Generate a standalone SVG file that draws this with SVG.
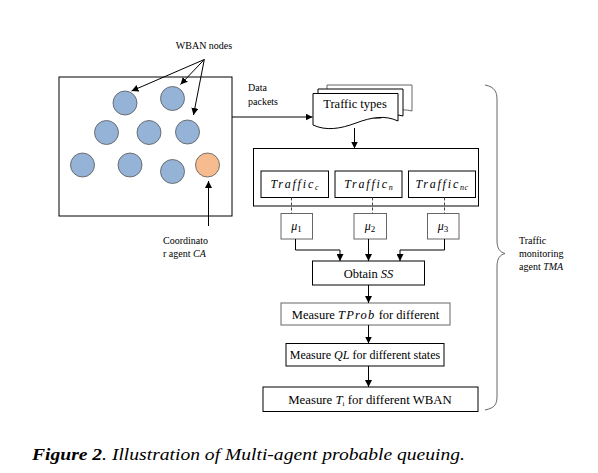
<svg xmlns="http://www.w3.org/2000/svg" width="598" height="473" viewBox="0 0 598 473">
<style>
text{fill:#000;font-family:"Times New Roman",Times,Tinos,"Liberation Serif","Noto Serif","DejaVu Serif",serif}
.s10{font-size:10px}
.s12{font-size:12px}
.m{font-style:italic}
.box{fill:#fff;stroke:#000;stroke-width:1}
.gbox{fill:#fff;stroke:#666;stroke-width:1}
.ln{fill:none;stroke:#000;stroke-width:1}
.dash{fill:none;stroke:#444;stroke-width:1;stroke-dasharray:3,2}
.blue{fill:#95b3d7;stroke:#555;stroke-width:0.8}
.orange{fill:#f6bc8f;stroke:#555;stroke-width:0.8}
</style>
<defs>
<marker id="ah" viewBox="0 0 10 10" refX="10" refY="5" markerWidth="7" markerHeight="7" orient="auto" markerUnits="userSpaceOnUse">
<path d="M0,0 L10,5 L0,10 z" fill="#000"/>
</marker>
</defs>
<rect width="598" height="473" fill="#fff"/>

<g id="wban-area">
<rect x="59" y="77" width="173" height="139" class="box"/>
<circle cx="125" cy="103" r="12" class="blue"/>
<circle cx="172.5" cy="98.5" r="12" class="blue"/>
<circle cx="106.5" cy="132.5" r="12" class="blue"/>
<circle cx="149" cy="132.5" r="12" class="blue"/>
<circle cx="187.5" cy="132" r="12" class="blue"/>
<circle cx="82.5" cy="165" r="12" class="blue"/>
<circle cx="130" cy="165" r="12" class="blue"/>
<circle cx="172.5" cy="171.5" r="12" class="blue"/>
<circle cx="207.5" cy="165" r="12" class="orange"/>
</g>

<g id="wban-label">
<text x="204" y="49" class="s10" text-anchor="middle">WBAN  nodes</text>
</g>

<g id="coord-label">
<text x="163" y="244" class="s10">Coordinato</text>
<text x="163" y="257" class="s10">r agent <tspan class="m">CA</tspan></text>
</g>

<g id="data-label">
<text x="248" y="91" class="s10">Data</text>
<text x="248" y="105" class="s10">packets</text>
</g>

<g id="traffic-types">
<path d="M327,85 H412 V111 C400,108 395,112 390,113 L327,113 Z" class="gbox"/>
<path d="M318,89 H403 V116 C392,113 385,117 380,118 L318,118 Z" class="box"/>
<path d="M313,93.5 H398 V121 C385,115 372,117 356,123 C340,129 326,131 313,125 Z" class="box"/>
<text x="355" y="108" font-size="12.5" text-anchor="middle">Traffic types</text>
</g>

<g id="traffic-group">
<rect x="253.5" y="148.5" width="225" height="57.5" class="box"/>
</g>
<g id="traffic-c">
<rect x="261" y="171" width="67.5" height="26.5" class="box"/>
<text x="294.5" y="188" class="s12 m" text-anchor="middle" letter-spacing="1.8">Traffic<tspan font-size="8" dy="2" letter-spacing="0">c</tspan></text>
</g>
<g id="traffic-n">
<rect x="335" y="171" width="67" height="26.5" class="box"/>
<text x="368.5" y="188" class="s12 m" text-anchor="middle" letter-spacing="1.8">Traffic<tspan font-size="8" dy="2" letter-spacing="0">n</tspan></text>
</g>
<g id="traffic-nc">
<rect x="408.5" y="171" width="67" height="26.5" class="box"/>
<text x="442" y="188" class="s12 m" text-anchor="middle" letter-spacing="1.8">Traffic<tspan font-size="8" dy="2" letter-spacing="0.5">nc</tspan></text>
</g>

<g id="mu1">
<rect x="281" y="213.5" width="31.5" height="25.5" class="gbox"/>
<text x="296.5" y="230" class="s12 m" text-anchor="middle">μ<tspan font-size="9" font-style="normal" dy="2">1</tspan></text>
</g>
<g id="mu2">
<rect x="354" y="213.5" width="32.5" height="25.5" class="gbox"/>
<text x="370" y="230" class="s12 m" text-anchor="middle">μ<tspan font-size="9" font-style="normal" dy="2">2</tspan></text>
</g>
<g id="mu3">
<rect x="427.5" y="213.5" width="31.5" height="25.5" class="gbox"/>
<text x="443" y="230" class="s12 m" text-anchor="middle">μ<tspan font-size="9" font-style="normal" dy="2">3</tspan></text>
</g>

<g id="obtain">
<rect x="312.5" y="261" width="112" height="24" class="box"/>
<text x="368.5" y="277.5" font-size="12.5" text-anchor="middle">Obtain <tspan class="m">SS</tspan></text>
</g>
<g id="tprob">
<rect x="281" y="303" width="169" height="22" class="gbox"/>
<text x="365.5" y="318.5" font-size="12.5" text-anchor="middle">Measure <tspan class="m" letter-spacing="1.2">TProb</tspan> for different</text>
</g>
<g id="ql">
<rect x="286" y="343.5" width="158" height="22.5" class="box"/>
<text x="365" y="359" class="s12" text-anchor="middle">Measure <tspan class="m">QL</tspan> for different states</text>
</g>
<g id="ti">
<rect x="263" y="387" width="215" height="24.5" class="box"/>
<text x="370" y="403.5" font-size="12.8" text-anchor="middle">Measure <tspan class="m">T</tspan><tspan font-size="7" dy="2">i</tspan><tspan dy="-2"> for different WBAN</tspan></text>
</g>

<g id="tma-label">
<path d="M485,85 C495,87 497,92 497,100 L497,240 C497,249 500,252 505,253.5 C500,255 497,258 497,267 L497,396 C497,404 495,408 485,410" fill="none" stroke="#666" stroke-width="1"/>
<text x="519" y="244" class="s10">Traffic</text>
<text x="519" y="257" class="s10">monitoring</text>
<text x="519" y="270" class="s10">agent <tspan class="m">TMA</tspan></text>
</g>

<g id="connectors">
<line x1="204.3" y1="59.5" x2="131.5" y2="91" class="ln" marker-end="url(#ah)"/>
<line x1="204.3" y1="59.5" x2="180.5" y2="84.5" class="ln" marker-end="url(#ah)"/>
<line x1="204.3" y1="59.5" x2="193.5" y2="115" class="ln" marker-end="url(#ah)"/>
<line x1="208.5" y1="226" x2="208.5" y2="181" class="ln" marker-end="url(#ah)"/>
<line x1="232" y1="117" x2="312.5" y2="117" class="ln" marker-end="url(#ah)"/>
<line x1="354.5" y1="128" x2="354.5" y2="148.5" class="ln" marker-end="url(#ah)"/>
<line x1="291.5" y1="197.5" x2="291.5" y2="213.5" class="dash"/>
<line x1="372.5" y1="197.5" x2="372.5" y2="213.5" class="dash"/>
<line x1="444.5" y1="197.5" x2="444.5" y2="213.5" class="dash"/>
<polyline points="295.5,239 295.5,250 340,250 340,261" class="ln" marker-end="url(#ah)"/>
<line x1="368.5" y1="239" x2="368.5" y2="261" class="ln" marker-end="url(#ah)"/>
<polyline points="444.5,239 444.5,250 400,250 400,261" class="ln" marker-end="url(#ah)"/>
<line x1="368.5" y1="285" x2="368.5" y2="303" class="ln" marker-end="url(#ah)"/>
<line x1="368.5" y1="325" x2="368.5" y2="343.5" class="ln" marker-end="url(#ah)"/>
<line x1="368.5" y1="366" x2="368.5" y2="387" class="ln" marker-end="url(#ah)"/>
</g>

<g id="caption">
<text x="32" y="460" font-size="16.5" textLength="433" lengthAdjust="spacingAndGlyphs"><tspan font-weight="bold" font-style="italic">Figure 2</tspan><tspan font-style="italic">. Illustration of Multi-agent probable queuing.</tspan></text>
</g>
</svg>
